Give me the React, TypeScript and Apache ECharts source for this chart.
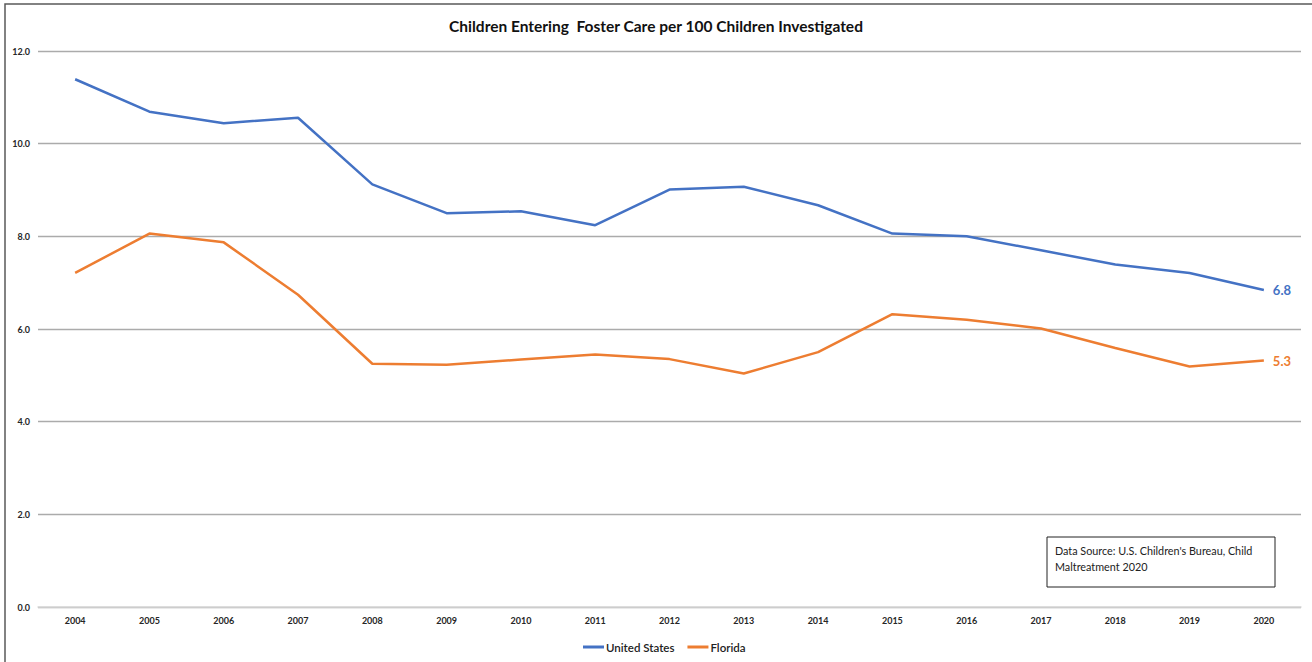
import React, { useEffect, useRef } from "react";
import * as echarts from "echarts";

const years = ["2004","2005","2006","2007","2008","2009","2010","2011","2012","2013","2014","2015","2016","2017","2018","2019","2020"];
const unitedStates = [11.39,10.69,10.44,10.56,9.12,8.50,8.54,8.24,9.01,9.07,8.67,8.06,8.00,7.70,7.39,7.21,6.84];
const florida = [7.21,8.06,7.87,6.74,5.25,5.23,5.34,5.45,5.35,5.04,5.50,6.32,6.20,6.01,5.59,5.19,5.32];
const titleText = "Children Entering  Foster Care per 100 Children Investigated";
const sourceText = "Data Source: U.S. Children's Bureau, Child\nMaltreatment 2020";

const FONT = "Lato, 'Open Sans', sans-serif";

export default function App() {
  const ref = useRef<HTMLDivElement>(null);
  useEffect(() => {
    if (!ref.current) return;
    const chart = echarts.init(ref.current, null, { renderer: "svg" });
    const endLabel = (color: string) => ({
      show: true,
      distance: 9,
      color,
      fontFamily: FONT,
      fontWeight: "bold",
      fontSize: 13,
      formatter: (p: any) => Number(p.value).toFixed(1),
    });
    chart.setOption({
      animation: false,
      backgroundColor: "#ffffff",
      textStyle: { fontFamily: FONT },
      title: {
        text: titleText,
        left: "center",
        top: 13,
        textStyle: { fontFamily: FONT, fontWeight: "bold", fontSize: 15.5, color: "#111" },
      },
      legend: {
        left: 578,
        top: 636,
        icon: "rect",
        itemWidth: 21,
        itemHeight: 3,
        itemGap: 13,
        textStyle: { fontFamily: FONT, fontSize: 11.5, fontWeight: 600, color: "#222", padding: [0, 0, 0, -3] },
        data: ["United States", "Florida"],
      },
      grid: { left: 38, right: 11, top: 51, bottom: 55, containLabel: false },
      xAxis: {
        type: "category",
        data: years,
        boundaryGap: true,
        axisLine: { show: true, lineStyle: { color: "#d9d9d9", width: 1.5 } },
        axisTick: { show: false },
        axisLabel: { fontFamily: FONT, fontSize: 9, fontWeight: "bold", color: "#262626", margin: 9 },
      },
      yAxis: {
        type: "value",
        min: 0,
        max: 12,
        interval: 2,
        axisLine: { show: false },
        axisTick: { show: false },
        splitLine: { lineStyle: { color: "#ababab", width: 1.3 } },
        axisLabel: {
          fontFamily: FONT,
          fontSize: 9,
          fontWeight: "bold",
          color: "#262626",
          margin: 8,
          formatter: (v: number) => v.toFixed(1),
        },
      },
      series: [
        {
          name: "United States",
          type: "line",
          data: unitedStates,
          symbol: "none",
          color: "#4472C4",
          lineStyle: { width: 2.5, color: "#4472C4" },
          endLabel: endLabel("#4472C4"),
        },
        {
          name: "Florida",
          type: "line",
          data: florida,
          symbol: "none",
          color: "#ED7D31",
          lineStyle: { width: 2.5, color: "#ED7D31" },
          endLabel: endLabel("#ED7D31"),
        },
      ],
      graphic: [
        {
          type: "rect",
          shape: { x: 5, y: 4, width: 1340, height: 700 },
          style: { fill: "none", stroke: "#595959", lineWidth: 1.5 },
          silent: true,
        },
        {
          type: "rect",
          shape: { x: 1047, y: 537, width: 228, height: 50 },
          style: { fill: "#ffffff", stroke: "#222", lineWidth: 1 },
          z: 10,
        },
        {
          type: "text",
          x: 1055,
          y: 542,
          z: 11,
          style: {
            text: sourceText,
            fontFamily: FONT,
            fontSize: 10.8,
            lineHeight: 16,
            fill: "#222",
          },
        },
      ],
    });
    return () => chart.dispose();
  }, []);
  return (
    <div
      ref={ref}
      style={{ position: "absolute", left: 0, top: 0, width: 1312, height: 662 }}
    />
  );
}
